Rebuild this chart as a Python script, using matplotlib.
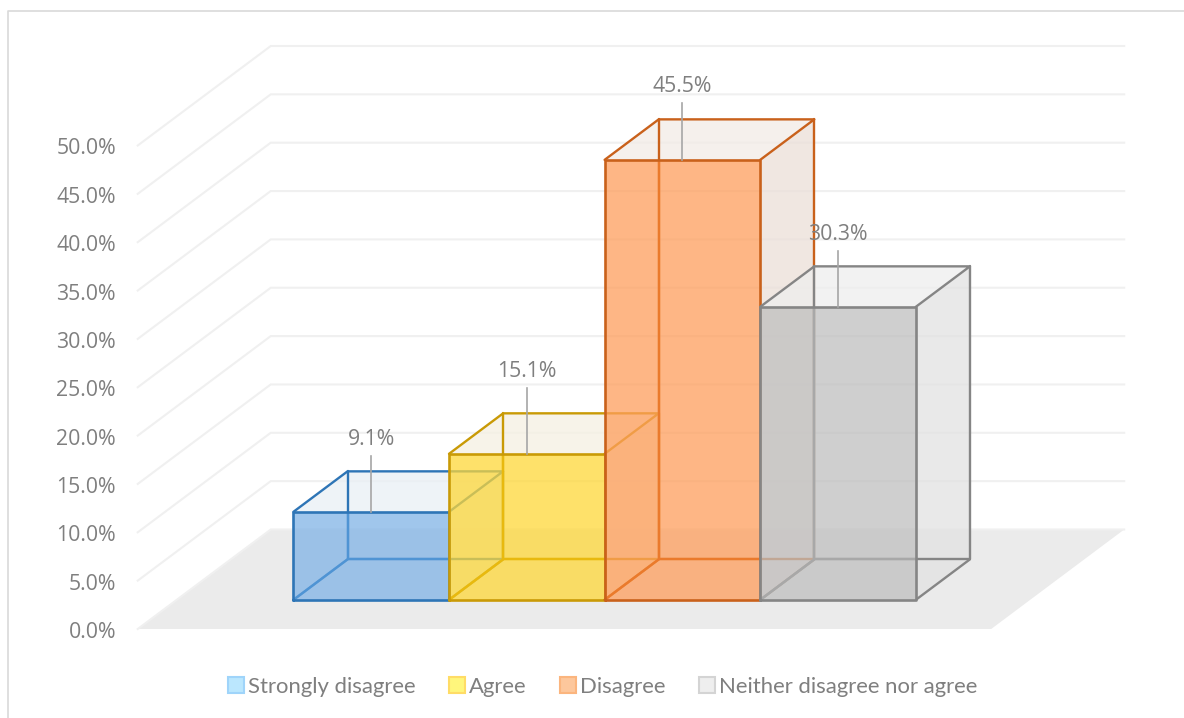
import matplotlib
matplotlib.use("Agg")
from matplotlib import pyplot as plt
from matplotlib.lines import Line2D
from matplotlib.patches import Patch, Polygon
from matplotlib.transforms import ScaledTranslation

categories = ["Strongly disagree", "Agree", "Disagree", "Neither disagree nor agree"]
values = [9.1, 15.1, 45.5, 30.3]
labels = ["9.1%", "15.1%", "45.5%", "30.3%"]
tick_values = [0, 5, 10, 15, 20, 25, 30, 35, 40, 45, 50]
tick_labels = ["0.0%", "5.0%", "10.0%", "15.0%", "20.0%", "25.0%",
               "30.0%", "35.0%", "40.0%", "45.0%", "50.0%"]

edge_colors = ["#2e75b6", "#c99a06", "#c9611b", "#858585"]
hidden_colors = ["#4f94d4", "#e8b90e", "#ea7a2c", "#a8a8a8"]
front_colors = ["#80b3e6", "#fed738", "#fe9e5c", "#bfbfbf"]
top_colors = ["#e9eff5", "#f5f0e2", "#f2ebe6", "#eeeeee"]
side_colors = ["#e4ebf3", "#f1ead4", "#ebdfd8", "#e2e2e2"]
legend_fill = ["#bbe7fe", "#fff67c", "#fdc79c", "#eeeeee"]
legend_edge = ["#9fd4fa", "#ffdc66", "#fbb57e", "#d4d4d4"]
leader_px = [56, 66, 57, 56]

TEXT = "#7f7f7f"
WIDTH, HEIGHT = 1184, 718
CAT_PX = 155.6     # one category
PCT_PX = 9.67      # one percentage point
X0_PX = 371.5 - 0.5 * CAT_PX - 0.29 * 133 - 0.7  # x=0 on the front plane
Y0_PX = 629        # 0% on the front plane

# depth of the wall, in data units
DEPTH_X = 133 / CAT_PX
DEPTH_Y = 99.5 / PCT_PX
BAR_FRONT = 0.293
BAR_BACK = 0.70


def project(x, v, d=0.0):
    return (x + d * DEPTH_X, v + d * DEPTH_Y)


fig = plt.figure(figsize=(WIDTH / 100, HEIGHT / 100), dpi=100)
ax = fig.add_axes([0, 0, 1, 1])
ax.set_xlim(-X0_PX / CAT_PX, (WIDTH - X0_PX) / CAT_PX)
ax.set_ylim((Y0_PX - HEIGHT) / PCT_PX, Y0_PX / PCT_PX)
for spine in ax.spines.values():
    spine.set_visible(False)
ax.set_xticks([])
ax.set_yticks(tick_values)
ax.set_yticklabels(tick_labels, fontname="Open Sans", fontsize=15.3, color=TEXT)
ax.tick_params(axis="y", length=0, pad=-83.5)
ax.patch.set_alpha(0)
nudge = ScaledTranslation(0, -1 / 100, fig.dpi_scale_trans)
for lbl in ax.get_yticklabels():
    lbl.set_transform(lbl.get_transform() + nudge)

# floor
x_left, x_right = -0.75, 4.735
ax.add_patch(Polygon([project(x_left, 0), project(x_left, 0, 1),
                      project(x_right, 0, 1), project(x_right, 0)],
                     facecolor="#ebebeb", edgecolor="none", zorder=1))

# gridlines along the side and back wall
for v in tick_values:
    pts = [project(x_left, v), project(x_left, v, 1), project(x_right, v, 1)]
    ax.plot([p[0] for p in pts], [p[1] for p in pts], color="#f0f0f0", lw=1.5,
            solid_joinstyle="miter", zorder=2)


def edge(points, color, z, lw=1.7):
    line, = ax.plot([p[0] for p in points], [p[1] for p in points], color=color, lw=lw,
                    solid_capstyle="round", solid_joinstyle="round", zorder=z)
    return line


# bars, left to right so each one sits over the previous one
z = 3
for i, value in enumerate(values):
    a, b = i, i + 1
    fbl = project(a, 0, BAR_FRONT)
    fbr = project(b, 0, BAR_FRONT)
    ftl = project(a, value, BAR_FRONT)
    ftr = project(b, value, BAR_FRONT)
    bbl = project(a, 0, BAR_BACK)
    bbr = project(b, 0, BAR_BACK)
    btl = project(a, value, BAR_BACK)
    btr = project(b, value, BAR_BACK)
    color = edge_colors[i]

    ax.add_patch(Polygon([ftl, btl, btr, ftr], facecolor=top_colors[i],
                         edgecolor="none", alpha=0.75, zorder=z))
    ax.add_patch(Polygon([ftr, btr, bbr, fbr], facecolor=side_colors[i],
                         edgecolor="none", alpha=0.75, zorder=z))
    # hidden edges
    edge([btl, bbl, bbr, btr], color, z + 0.1)
    edge([fbl, bbl], color, z + 0.1)
    edge([fbr, bbr], color, z + 0.1)
    front = Polygon([fbl, ftl, ftr, fbr], facecolor=front_colors[i],
                    edgecolor="none", alpha=0.75, zorder=z + 0.2)
    ax.add_patch(front)
    # the same edges again where they show through the front face
    for pts in ([btl, bbl, bbr], [fbl, bbl]):
        line = edge(pts, hidden_colors[i], z + 0.25)
        line.set_clip_path(front)
    # visible edges
    edge([fbl, ftl, ftr, fbr, fbl], color, z + 0.3, lw=1.9)
    edge([ftl, btl, btr, ftr], color, z + 0.3)
    z += 1

# data labels with leader lines
for i, value in enumerate(values):
    x, y = project(i + 0.5, value, BAR_FRONT)
    ax.plot([x, x], [y, y + leader_px[i] / PCT_PX], color="#a6a6a6", lw=1.2, zorder=20)
    ax.text(x, y + (leader_px[i] + 16.5) / PCT_PX, labels[i], ha="center", va="center",
            fontname="Open Sans", fontsize=15.3, color=TEXT, zorder=21)

# chart frame, open at the right and bottom
fig.add_artist(Line2D([7.5 / WIDTH, 7.5 / WIDTH, 1], [0, 1 - 10.5 / HEIGHT, 1 - 10.5 / HEIGHT],
                      color="#d9d9d9", lw=1.2))

handles = [Patch(facecolor=legend_fill[i], edgecolor=legend_edge[i], lw=1.5)
           for i in range(len(categories))]
ax.legend(handles, categories, loc="center", bbox_to_anchor=(602.5 / WIDTH, 1 - 687 / HEIGHT),
          bbox_transform=fig.transFigure, ncol=4, frameon=False,
          prop={"family": "Lato", "size": 15.9}, labelcolor=TEXT,
          handlelength=0.72, handleheight=0.72, handletextpad=0.2, columnspacing=1.5)

fig.savefig("out.png", dpi=100, facecolor="white")
